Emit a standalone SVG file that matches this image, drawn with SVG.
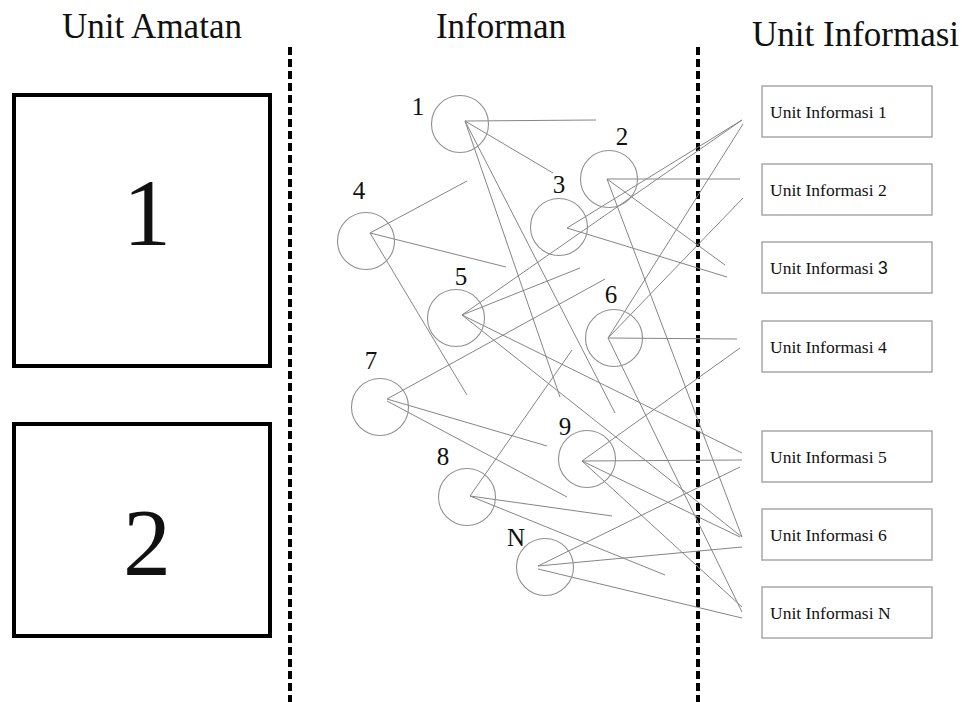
<svg xmlns="http://www.w3.org/2000/svg" width="962" height="702" viewBox="0 0 962 702">
  <style>
    .head { font-family: "Liberation Serif", "Times New Roman", serif; font-size: 35px; fill: #111; }
    .big { font-family: "Liberation Serif", "Times New Roman", serif; font-size: 96px; fill: #111; text-anchor: middle; }
    .num { font-family: "Liberation Serif", "Times New Roman", serif; font-size: 25px; fill: #111; text-anchor: middle; }
    .unit { font-family: "Liberation Serif", "Times New Roman", serif; font-size: 17.5px; fill: #111; }
    .sans { font-family: "Liberation Sans", Arial, sans-serif; }
    .obs { fill: #fff; stroke: #000; stroke-width: 4; }
    .info { fill: #fff; stroke: #a8a8a8; stroke-width: 1.5; }
    .node { fill: none; stroke: #8f8f8f; stroke-width: 1.1; }
    .divider { stroke: #000; stroke-width: 4; stroke-dasharray: 8 4; }
    #links line { stroke: #858585; stroke-width: 1; }
  </style>
  <rect width="962" height="702" fill="#fff"/>

  <!-- column headings -->
  <text class="head" x="152" y="38" text-anchor="middle">Unit Amatan</text>
  <text class="head" x="501" y="38" text-anchor="middle">Informan</text>
  <text class="head" x="752" y="46">Unit Informasi</text>

  <!-- column dividers -->
  <line class="divider" x1="290" y1="47" x2="290" y2="702"/>
  <line class="divider" x1="698" y1="47" x2="698" y2="702"/>

  <!-- observation units -->
  <g id="amatan-1">
    <rect class="obs" x="14" y="95" width="256" height="271"/>
    <text class="big" x="147" y="245">1</text>
  </g>
  <g id="amatan-2">
    <rect class="obs" x="14" y="424" width="256" height="212"/>
    <text class="big" x="147" y="575">2</text>
  </g>

  <!-- links between informants and information units -->
  <g id="links">
    <line x1="465" y1="121" x2="596" y2="120"/>
    <line x1="465" y1="121" x2="553" y2="173"/>
    <line x1="465" y1="121" x2="560" y2="397"/>
    <line x1="465" y1="121" x2="615" y2="413"/>

    <line x1="607" y1="179" x2="740" y2="179"/>
    <line x1="607" y1="179" x2="725" y2="265"/>
    <line x1="607" y1="179" x2="742" y2="537"/>

    <line x1="567" y1="228" x2="742" y2="120"/>
    <line x1="567" y1="228" x2="727" y2="277"/>

    <line x1="370" y1="233" x2="467" y2="181"/>
    <line x1="370" y1="233" x2="506" y2="267"/>
    <line x1="370" y1="233" x2="467" y2="395"/>

    <line x1="462" y1="315" x2="742" y2="120"/>
    <line x1="462" y1="315" x2="580" y2="268"/>
    <line x1="462" y1="315" x2="742" y2="453"/>
    <line x1="462" y1="315" x2="742" y2="537"/>

    <line x1="608" y1="338" x2="743" y2="124"/>
    <line x1="608" y1="338" x2="743" y2="198"/>
    <line x1="608" y1="338" x2="737" y2="339"/>
    <line x1="608" y1="338" x2="742" y2="612"/>

    <line x1="387" y1="399" x2="605" y2="279"/>
    <line x1="387" y1="399" x2="547" y2="446"/>
    <line x1="387" y1="401" x2="567" y2="497"/>

    <line x1="470" y1="496" x2="572" y2="350"/>
    <line x1="470" y1="496" x2="612" y2="516"/>
    <line x1="470" y1="496" x2="665" y2="575"/>

    <line x1="582" y1="461" x2="742" y2="460"/>
    <line x1="582" y1="461" x2="740" y2="348"/>
    <line x1="582" y1="461" x2="740" y2="537"/>
    <line x1="582" y1="461" x2="742" y2="607"/>

    <line x1="538" y1="566" x2="740" y2="467"/>
    <line x1="538" y1="566" x2="742" y2="547"/>
    <line x1="538" y1="569" x2="742" y2="618"/>
  </g>

  <!-- informants -->
  <g id="informan-1"><circle class="node" cx="460" cy="124" r="28.5"/><text class="num" x="418" y="115">1</text></g>
  <g id="informan-2"><circle class="node" cx="609" cy="179" r="28.5"/><text class="num" x="622" y="145">2</text></g>
  <g id="informan-3"><circle class="node" cx="559" cy="227" r="28.5"/><text class="num" x="559" y="193">3</text></g>
  <g id="informan-4"><circle class="node" cx="366" cy="241" r="28.5"/><text class="num" x="359" y="199">4</text></g>
  <g id="informan-5"><circle class="node" cx="456" cy="318" r="28.5"/><text class="num" x="461" y="285">5</text></g>
  <g id="informan-6"><circle class="node" cx="614" cy="338" r="28.5"/><text class="num" x="611" y="303">6</text></g>
  <g id="informan-7"><circle class="node" cx="380" cy="407" r="28.5"/><text class="num" x="371" y="369">7</text></g>
  <g id="informan-8"><circle class="node" cx="467" cy="497" r="28.5"/><text class="num" x="443" y="465">8</text></g>
  <g id="informan-9"><circle class="node" cx="587" cy="459" r="28.5"/><text class="num" x="565" y="435">9</text></g>
  <g id="informan-N"><circle class="node" cx="545" cy="567" r="28.5"/><text class="num" x="516" y="546">N</text></g>

  <!-- information units -->
  <g id="info-1"><rect class="info" x="762" y="86" width="170" height="51"/><text class="unit" x="770" y="118">Unit Informasi 1</text></g>
  <g id="info-2"><rect class="info" x="762" y="164" width="170" height="51"/><text class="unit" x="770" y="196">Unit Informasi 2</text></g>
  <g id="info-3"><rect class="info" x="762" y="242" width="170" height="51"/><text class="unit" x="770" y="274">Unit Informasi <tspan class="sans">3</tspan></text></g>
  <g id="info-4"><rect class="info" x="762" y="321" width="170" height="51"/><text class="unit" x="770" y="353">Unit Informasi 4</text></g>
  <g id="info-5"><rect class="info" x="762" y="431" width="170" height="51"/><text class="unit" x="770" y="463">Unit Informasi 5</text></g>
  <g id="info-6"><rect class="info" x="762" y="509" width="170" height="51"/><text class="unit" x="770" y="541">Unit Informasi 6</text></g>
  <g id="info-N"><rect class="info" x="762" y="587" width="170" height="51"/><text class="unit" x="770" y="619">Unit Informasi N</text></g>
</svg>
